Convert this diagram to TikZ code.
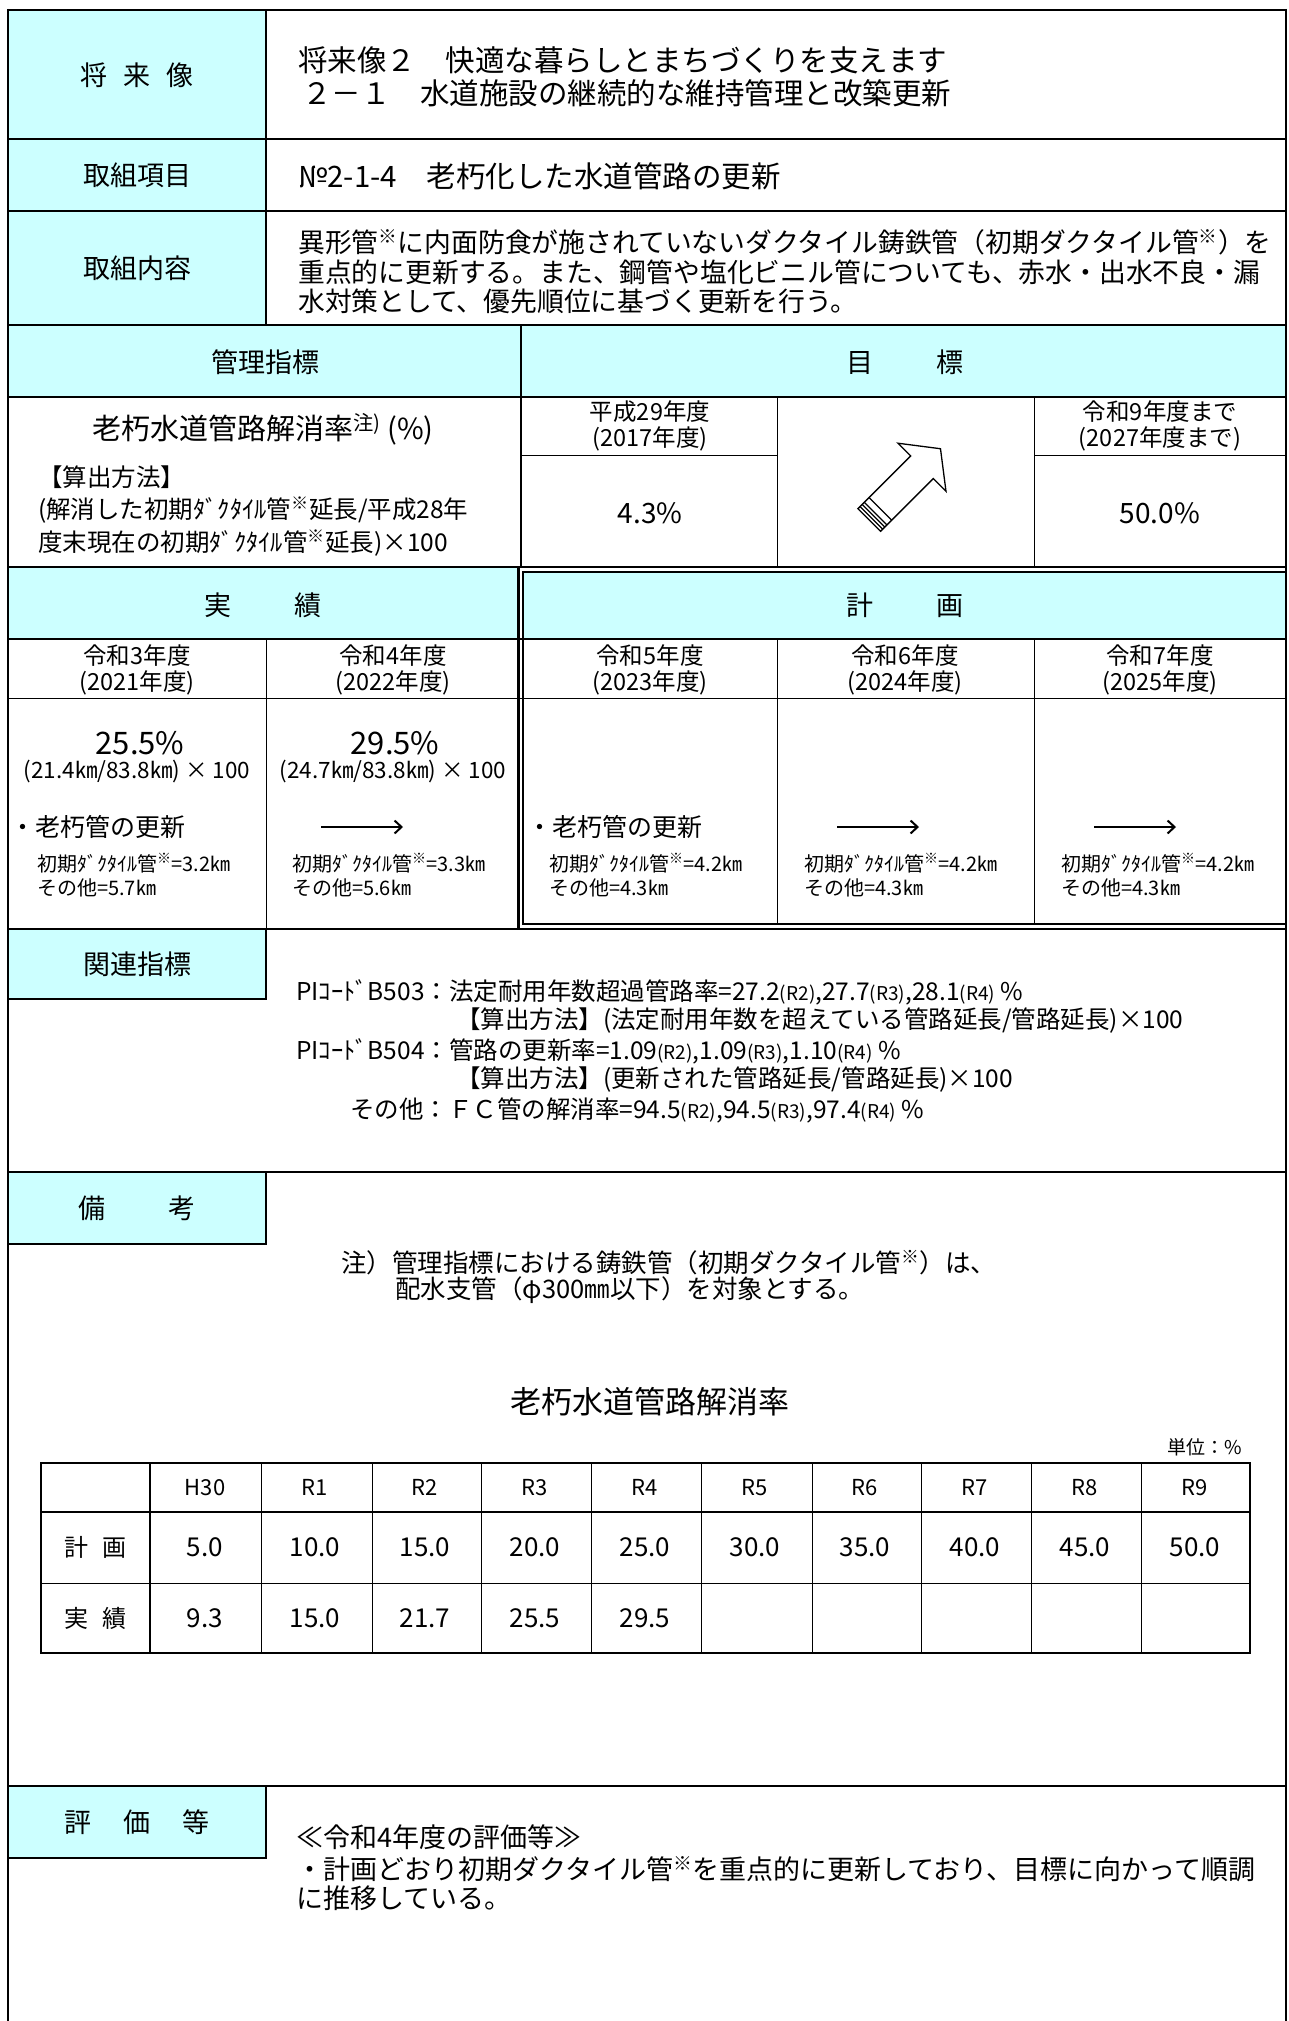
\documentclass[tikz,border=0pt]{standalone}
\usepackage{fontspec}
\setmainfont{Noto Sans CJK JP}
\usetikzlibrary{arrows.meta}
\definecolor{headcyan}{RGB}{204,255,255}
\newcommand{\fsz}[2]{\fontsize{#1pt}{#2pt}\selectfont}
\newcommand{\kome}{\textsuperscript{※}}
\newcommand{\rsub}[1]{{\fsz{19}{20}(#1)}}
\tikzset{
  rowline/.style={line width=2.4pt},
  cellline/.style={line width=1pt},
  lbl/.style={inner sep=0pt,font=\fsz{27}{30}},
  txt/.style={inner sep=0pt,anchor=west,align=left},
  yearlbl/.style={inner sep=0pt,align=center,font=\fsz{23.5}{26}},
  kmtext/.style={inner sep=0pt,anchor=west,align=left,font=\fsz{20}{24}},
  cellval/.style={inner sep=0pt,font=\fsz{26}{28}},
  flow/.style={-{Straight Barb[length=7pt,width=13pt]},line width=2pt}
}
\begin{document}
\begin{tikzpicture}[x=1pt,y=-1pt]
\useasboundingbox (0,0) rectangle (1289,2021);

% cyan cells
\fill[headcyan] (8,10) rectangle (266,325);
\fill[headcyan] (8,325) rectangle (1286,397);
\fill[headcyan] (8,567) rectangle (518,639);
\fill[headcyan] (523,572) rectangle (1286,639);
\fill[headcyan] (8,929) rectangle (266,999);
\fill[headcyan] (8,1172) rectangle (266,1244);
\fill[headcyan] (8,1786) rectangle (266,1858);

% frame and rows
\draw[rowline] (8,10) -- (1286,10);
\draw[rowline] (8,8.8) -- (8,2021);
\draw[rowline] (1286,8.8) -- (1286,2021);
\foreach \yy in {139,211,325,397,567,929,1172,1786}
  \draw[rowline] (8,\yy) -- (1286,\yy);
\draw[line width=1.8pt] (8,639) -- (1286,639);
\draw[line width=1.8pt] (266,10) -- (266,325);
\draw[line width=1.8pt] (521,325) -- (521,567);
\draw[rowline] (518.5,567) -- (518.5,929);
\draw[rowline] (523,572) rectangle (1286,924);
\draw[cellline] (8,698) -- (1286,698);
\draw[cellline] (266,639) -- (266,929);
\foreach \xx in {777,1034} {
  \draw[cellline] (\xx,397) -- (\xx,567);
  \draw[cellline] (\xx,639) -- (\xx,924);
}
\draw[cellline] (521,455) -- (777,455);
\draw[cellline] (1034,455) -- (1286,455);
\draw[rowline] (8,1172) rectangle (266,1244);
\draw[rowline] (8,929) rectangle (266,999);
\draw[rowline] (8,1786) rectangle (266,1858);

% header rows
\node[lbl] (shorai) at (137,75) {将\hspace{0.6em}来\hspace{0.6em}像};
\node[txt,font=\fsz{29.5}{33}] (vision) at (298,60) {将来像２　快適な暮らしとまちづくりを支えます};
\node[txt,font=\fsz{29.5}{33}] (policy) at (302,93) {２－１　水道施設の継続的な維持管理と改築更新};
\node[lbl] (koumoku) at (137,175) {取組項目};
\node[txt,font=\fsz{29.5}{33}] (item) at (298,176) {№2-1-4　老朽化した水道管路の更新};
\node[lbl] (naiyou) at (137,268) {取組内容};
\node[txt,font=\fsz{26.8}{29.5}] (detail) at (298,272) {異形管\kome に内面防食が施されていないダクタイル鋳鉄管（初期ダクタイル管\kome）を\\重点的に更新する。また、鋼管や塩化ビニル管についても、赤水・出水不良・漏\\水対策として、優先順位に基づく更新を行う。};
\node[lbl] (kanri) at (265,362) {管理指標};
\node[lbl] (mokuhyo) at (905,362) {目\hspace{2.3em}標};

% target row
\node[inner sep=0pt,font=\fsz{29}{32}] (rate) at (263,429) {老朽水道管路解消率\textsuperscript{注)} (\%)};
\node[txt,font=\fsz{24.5}{32.5}] (method) at (38,511) {【算出方法】\\(解消した初期ﾀﾞｸﾀｲﾙ管\kome 延長/平成28年\\度末現在の初期ﾀﾞｸﾀｲﾙ管\kome 延長)×100};
\node[yearlbl] (base) at (650,426) {平成29年度\\(2017年度)};
\node[inner sep=0pt,font=\fsz{28}{30}] (baseval) at (650,513) {4.3\%};
\node[yearlbl] (goal) at (1160,426) {令和9年度まで\\(2027年度まで)};
\node[inner sep=0pt,font=\fsz{28}{30}] (goalval) at (1160,513) {50.0\%};
\begin{scope}[shift={(869.2,520)},x={(0.7071pt,0.7071pt)},y={(0.7071pt,-0.7071pt)},line width=1.3pt]
  \draw[fill=white] (0,-16) -- (74.6,-16) -- (74.6,-34) -- (100.8,0) -- (74.6,34) -- (74.6,16) -- (0,16) -- cycle;
  \foreach \ss in {3,6,9,15.8}
    \draw (\ss,-16) -- (\ss,16);
\end{scope}

% results and plan
\node[lbl] (jisseki) at (263,605) {実\hspace{2.3em}績};
\node[lbl] (keikaku) at (905,605) {計\hspace{2.3em}画};
\node[yearlbl] (r3) at (137,670) {令和3年度\\(2021年度)};
\node[yearlbl] (r4) at (393,670) {令和4年度\\(2022年度)};
\node[yearlbl] (r5) at (650,670) {令和5年度\\(2023年度)};
\node[yearlbl] (r6) at (905,670) {令和6年度\\(2024年度)};
\node[yearlbl] (r7) at (1160,670) {令和7年度\\(2025年度)};

\node[inner sep=0pt,font=\fsz{31}{33}] (r3val) at (140,743) {25.5\%};
\node[inner sep=0pt,font=\fsz{22.5}{24}] (r3calc) at (137,771) {(21.4㎞/83.8㎞) × 100};
\node[inner sep=0pt,font=\fsz{31}{33}] (r4val) at (395,743) {29.5\%};
\node[inner sep=0pt,font=\fsz{22.5}{24}] (r4calc) at (393,771) {(24.7㎞/83.8㎞) × 100};

\node[txt,font=\fsz{25}{28}] (r3work) at (10,827) {・老朽管の更新};
\node[txt,font=\fsz{25}{28}] (r5work) at (527,827) {・老朽管の更新};
\coordinate (r4a) at (321,827);
\coordinate (r4b) at (403,827);
\coordinate (r6a) at (837,827);
\coordinate (r6b) at (919,827);
\coordinate (r7a) at (1094,827);
\coordinate (r7b) at (1176,827);
\draw[flow] (r4a) -- (r4b);
\draw[flow] (r6a) -- (r6b);
\draw[flow] (r7a) -- (r7b);

\node[kmtext] (r3km) at (37,875) {初期ﾀﾞｸﾀｲﾙ管\kome=3.2㎞\\その他=5.7㎞};
\node[kmtext] (r4km) at (292,875) {初期ﾀﾞｸﾀｲﾙ管\kome=3.3㎞\\その他=5.6㎞};
\node[kmtext] (r5km) at (549,875) {初期ﾀﾞｸﾀｲﾙ管\kome=4.2㎞\\その他=4.3㎞};
\node[kmtext] (r6km) at (804,875) {初期ﾀﾞｸﾀｲﾙ管\kome=4.2㎞\\その他=4.3㎞};
\node[kmtext] (r7km) at (1061,875) {初期ﾀﾞｸﾀｲﾙ管\kome=4.2㎞\\その他=4.3㎞};

% related indicators
\node[lbl] (kanren) at (137,964) {関連指標};
\node[txt,font=\fsz{24.5}{29}] (pi1) at (296,992) {PIｺｰﾄﾞB503：法定耐用年数超過管路率=27.2\rsub{R2},27.7\rsub{R3},28.1\rsub{R4} \%};
\node[txt,font=\fsz{24.5}{29}] (pi1m) at (456,1021) {【算出方法】(法定耐用年数を超えている管路延長/管路延長)×100};
\node[txt,font=\fsz{24.5}{29}] (pi2) at (296,1051) {PIｺｰﾄﾞB504：管路の更新率=1.09\rsub{R2},1.09\rsub{R3},1.10\rsub{R4} \%};
\node[txt,font=\fsz{24.5}{29}] (pi2m) at (456,1080) {【算出方法】(更新された管路延長/管路延長)×100};
\node[txt,font=\fsz{24.5}{29}] (pi3) at (350,1110) {その他：ＦＣ管の解消率=94.5\rsub{R2},94.5\rsub{R3},97.4\rsub{R4} \%};

% remarks
\node[lbl] (bikou) at (137,1208) {備\hspace{2.3em}考};
\node[txt,font=\fsz{25.5}{27}] (note1) at (341,1263) {注）管理指標における鋳鉄管（初期ダクタイル管\kome）は、};
\node[txt,font=\fsz{25.5}{27}] (note2) at (395,1290) {配水支管（φ300㎜以下）を対象とする。};
\node[inner sep=0pt,font=\fsz{31}{33}] (chart) at (650,1402) {老朽水道管路解消率};
\node[inner sep=0pt,anchor=east,font=\fsz{19}{21}] (unit) at (1242,1447) {単位：\%};

% table
\draw[rowline] (41,1463) rectangle (1250,1653);
\draw[rowline] (41,1512) -- (1250,1512);
\draw[rowline] (150,1463) -- (150,1653);
\draw[cellline] (41,1583) -- (1250,1583);
\foreach \xx in {261,372,481,591,701,812,921,1031,1141}
  \draw[cellline] (\xx,1463) -- (\xx,1653);
\node[inner sep=0pt,font=\fsz{24}{26}] (rowplan) at (95.5,1547.5) {計\hspace{0.6em}画};
\node[inner sep=0pt,font=\fsz{24}{26}] (rowact) at (95.5,1618) {実\hspace{0.6em}績};
\foreach \yr [count=\i] in {H30,R1,R2,R3,R4,R5,R6,R7,R8,R9}
  \node[inner sep=0pt,font=\fsz{22}{24}] (hd\i) at ({95+110*\i},1487.5) {\yr};
\foreach \v [count=\i] in {5.0,10.0,15.0,20.0,25.0,30.0,35.0,40.0,45.0,50.0}
  \node[cellval] (pl\i) at ({95+110*\i},1547.5) {\v};
\foreach \v [count=\i] in {9.3,15.0,21.7,25.5,29.5}
  \node[cellval] (ac\i) at ({95+110*\i},1618) {\v};

% evaluation
\node[lbl] (hyouka) at (137,1822) {評\hspace{1.2em}価\hspace{1.2em}等};
\node[txt,font=\fsz{27}{28}] (eval1) at (296,1837) {≪令和4年度の評価等≫};
\node[txt,font=\fsz{27}{28.5}] (eval2) at (296,1883.5) {・計画どおり初期ダクタイル管\kome を重点的に更新しており、目標に向かって順調\\に推移している。};
\end{tikzpicture}
\end{document}
